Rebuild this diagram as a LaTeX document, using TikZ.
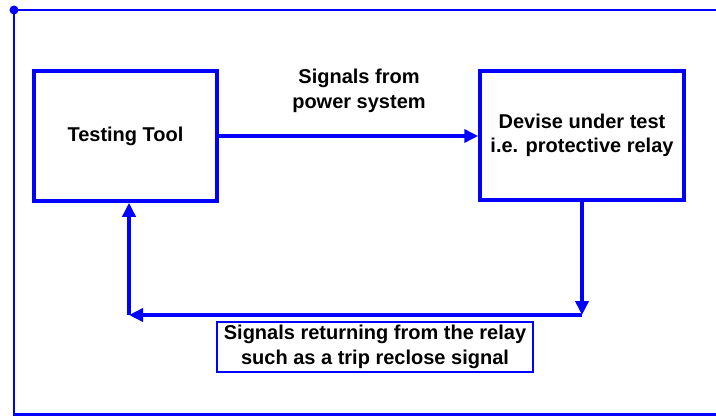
\documentclass[tikz,border=0pt]{standalone}
\usepackage{fontspec}
\setmainfont{Liberation Sans}
\usetikzlibrary{arrows.meta}

\begin{document}
\begin{tikzpicture}[x=1pt,y=-1pt,
    blk/.style={draw=blue,line width=3.5pt,align=center,inner sep=0pt,
        font=\bfseries\fontsize{20}{24.5}\selectfont},
    sig/.style={draw=blue,line width=3.5pt,-{Triangle[length=14pt,width=13pt]}},
    lbl/.style={align=center,font=\bfseries\fontsize{20}{24.5}\selectfont}]
    \useasboundingbox (0,0) rectangle (716,416);
    % frame
    \draw [blue,line width=2.5pt] (716,10) -- (14,10) -- (14,414.5) -- (716,414.5);
    \fill [blue] (14,10) circle [radius=4.5pt];
    % blocks
    \node [blk,minimum width=183pt,minimum height=130pt] (tool) at (125.5,136) {Testing Tool};
    \node [blk,minimum width=204pt,minimum height=129pt] (dut) at (582,135.5) {Devise under test\\i.e. protective relay};
    \node [blk,line width=2pt,minimum width=316pt,minimum height=50pt] (ret) at (375,347) {Signals returning from the relay\\such as a trip reclose signal};
    \node [lbl] (sigtxt) at (359,91) {Signals from\\power system};
    % connectors
    \coordinate (rc) at (dut.south |- 0,315);
    \coordinate (lc) at (129,315);
    \draw [sig] (tool.east) -- (tool.east -| dut.west);
    \draw [sig] (dut.south) -- (rc);
    \draw [sig] (rc) -- (lc);
    \draw [sig] (lc) -- (lc |- tool.south);
\end{tikzpicture}
\end{document}
